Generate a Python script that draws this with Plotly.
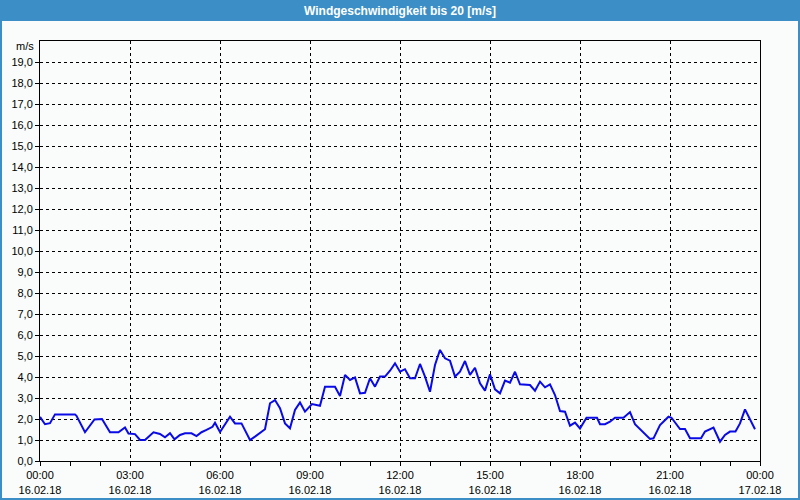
import plotly.graph_objects as go

# Data (time of day on 16.02.18, wind speed in m/s)
times = ["00:00","00:10","00:20","00:30","01:10","01:13","01:30","01:49","02:04","02:20",
         "02:37","02:43","02:50","02:57","03:10","03:20","03:30","03:47","04:00","04:10",
         "04:20","04:29","04:40","04:50","05:03","05:13","05:23","05:33","05:45","05:50",
         "06:00","06:20","06:30","06:43","07:00","07:10","07:30","07:40","07:50","08:00",
         "08:10","08:20","08:30","08:40","08:50","09:04","09:20","09:30","09:50","10:00",
         "10:10","10:20","10:30","10:40","10:50","11:00","11:10","11:20","11:30","11:40",
         "11:50","12:00","12:10","12:20","12:30","12:40","12:50","13:00","13:10","13:20",
         "13:30","13:40","13:50","14:00","14:10","14:20","14:30","14:40","14:50","15:00",
         "15:10","15:20","15:30","15:40","15:50","16:00","16:10","16:20","16:30","16:40",
         "16:50","17:00","17:10","17:20","17:30","17:40","17:50","18:00","18:13","18:34",
         "18:40","18:50","19:00","19:10","19:27","19:40","19:50","20:20","20:27","20:40",
         "20:57","21:03","21:20","21:30","21:40","22:02","22:10","22:27","22:40","22:50",
         "23:00","23:11","23:20","23:30","23:50"]
speed = [2.1,1.75,1.8,2.22,2.22,2.15,1.37,1.98,2.0,1.37,
         1.37,1.48,1.6,1.31,1.28,1.0,1.0,1.37,1.29,1.13,
         1.32,1.03,1.24,1.32,1.32,1.19,1.37,1.48,1.63,1.82,
         1.38,2.11,1.79,1.79,1.0,1.16,1.51,2.75,2.9,2.51,
         1.79,1.56,2.43,2.79,2.35,2.71,2.63,3.54,3.54,3.1,
         4.1,3.86,3.98,3.22,3.25,3.94,3.54,4.02,4.02,4.3,
         4.65,4.25,4.37,3.94,3.94,4.62,4.02,3.3,4.57,5.29,
         4.89,4.78,4.02,4.25,4.76,4.1,4.44,3.7,3.35,4.13,
         3.41,3.22,3.83,3.73,4.25,3.65,3.65,3.62,3.35,3.78,
         3.51,3.65,3.14,2.38,2.35,1.68,1.83,1.55,2.06,2.06,
         1.75,1.75,1.87,2.06,2.06,2.33,1.75,1.05,1.08,1.71,
         2.11,2.06,1.52,1.52,1.08,1.08,1.4,1.59,0.92,1.24,
         1.4,1.4,1.79,2.46,1.51]

tick_times = ["2018-02-16 00:00","2018-02-16 03:00","2018-02-16 06:00","2018-02-16 09:00",
              "2018-02-16 12:00","2018-02-16 15:00","2018-02-16 18:00","2018-02-16 21:00",
              "2018-02-17 00:00"]
tick_text = ["00:00<br>16.02.18","03:00<br>16.02.18","06:00<br>16.02.18","09:00<br>16.02.18",
             "12:00<br>16.02.18","15:00<br>16.02.18","18:00<br>16.02.18","21:00<br>16.02.18",
             "00:00<br>17.02.18"]
y_ticks = list(range(0, 20))
y_text = [f"{v},0" for v in y_ticks]

title = "Windgeschwindigkeit bis 20 [m/s]"
unit = "m/s"

x = ["2018-02-16 " + t for t in times]

BLUE = "#3C8FC6"
BG = "#F9FCFA"
FONT = "Liberation Sans"

fig = go.Figure()
fig.add_trace(go.Scatter(x=x, y=speed, mode="lines",
                         line=dict(color="#0A0AE6", width=2), hoverinfo="x+y"))

L, R, T, B = 40, 40, 41, 39
W, H = 800, 500
pw, ph = W - L - R, H - T - B

def px(xp):
    return (xp - L) / pw

def py(yp):
    return (H - B - yp) / ph

fig.update_layout(
    width=W, height=H,
    margin=dict(l=L, r=R, t=T, b=B, pad=0, autoexpand=False),
    paper_bgcolor=BG, plot_bgcolor=BG,
    showlegend=False,
    font=dict(family=FONT, size=11, color="black"),
    xaxis=dict(
        type="date", automargin=False,
        range=["2018-02-16 00:00", "2018-02-17 00:00"],
        tickvals=tick_times, ticktext=tick_text,
        showgrid=True, gridcolor="black", gridwidth=1, griddash="3px,3px",
        showline=True, linecolor="black", linewidth=1, mirror=True,
        ticks="outside", ticklen=4, tickcolor="black",
        minor=dict(dtick=3600000, ticks="outside", ticklen=4, tickcolor="black", showgrid=False),
        zeroline=False, fixedrange=True,
        tickfont=dict(family=FONT, size=11, color="black"),
    ),
    yaxis=dict(
        automargin=False,
        range=[0, 20],
        tickvals=y_ticks, ticktext=y_text,
        showgrid=True, gridcolor="black", gridwidth=1, griddash="3px,3px",
        showline=True, linecolor="black", linewidth=1, mirror=True,
        ticks="outside", ticklen=4, tickcolor="black",
        zeroline=False, fixedrange=True,
        tickfont=dict(family=FONT, size=11, color="black"),
    ),
    shapes=[
        dict(type="rect", xref="paper", yref="paper",
             x0=px(0), x1=px(W), y0=py(21), y1=py(0),
             fillcolor=BLUE, line=dict(width=0), layer="below"),
        dict(type="rect", xref="paper", yref="paper",
             x0=px(1), x1=px(W - 1), y0=py(H - 1), y1=py(1),
             fillcolor="rgba(0,0,0,0)", line=dict(color=BLUE, width=2)),
    ],
    annotations=[
        dict(text=f"<b>{title}</b>", xref="paper", yref="paper",
             x=px(400), y=py(11), xanchor="center", yanchor="middle",
             showarrow=False, font=dict(family=FONT, size=12, color="white")),
        dict(text=unit, xref="paper", yref="paper",
             x=px(36), y=py(46), xanchor="right", yanchor="middle",
             showarrow=False, font=dict(family=FONT, size=11, color="black")),
    ],
)

fig.write_html("out.html")
